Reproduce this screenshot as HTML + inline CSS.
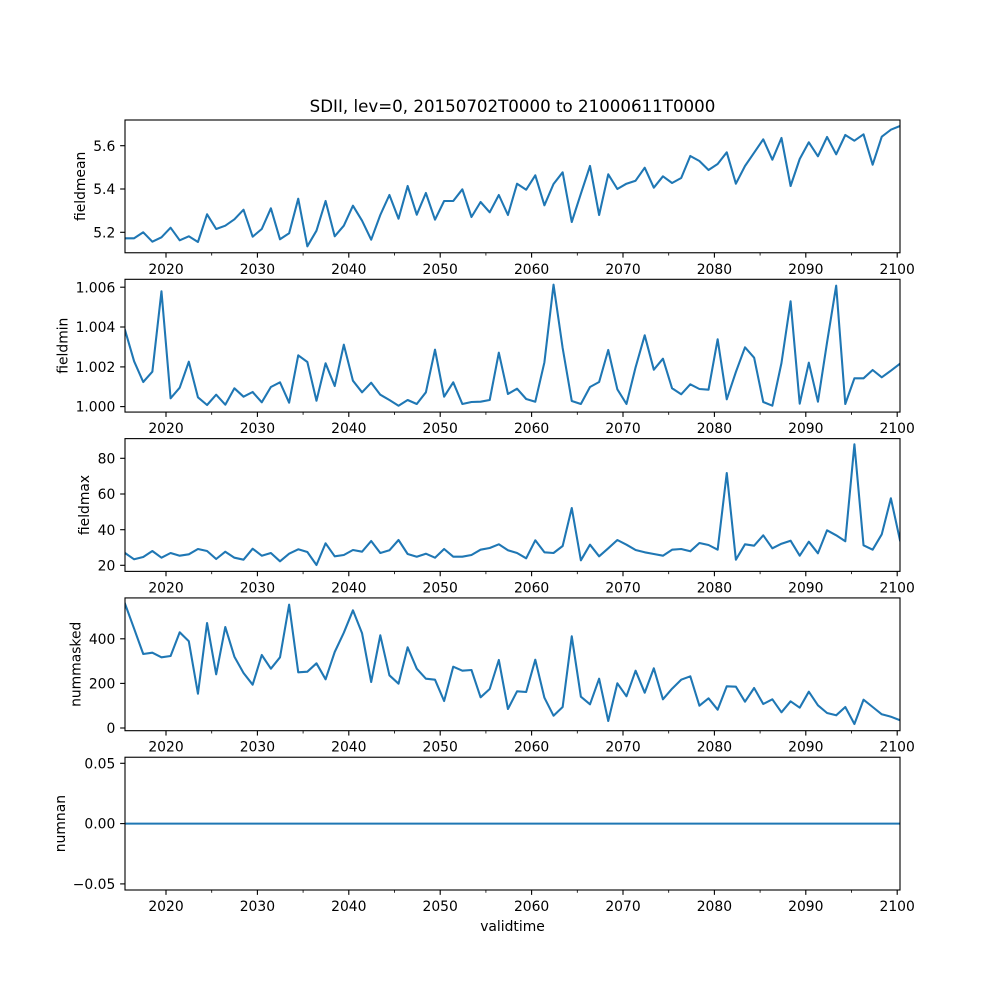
<!DOCTYPE html>
<html>
<head>
<meta charset="utf-8">
<style>
html,body{margin:0;padding:0;background:#fff;}
svg{display:block;}
text{font-family:"DejaVu Sans","Liberation Sans",sans-serif;fill:#000;}
.tl{font-size:13.89px;}
.yl{font-size:13.89px;text-anchor:end;}
.xl{font-size:13.89px;text-anchor:middle;}
.ln{fill:none;stroke:#1f77b4;stroke-width:2.08;stroke-linejoin:round;stroke-linecap:square;}
.sp{fill:none;stroke:#000;stroke-width:1.11;}
.tk{stroke:#000;stroke-width:1.11;}
.mt{stroke:#000;stroke-width:0.83;}
</style>
</head>
<body>
<svg width="1000" height="1000" viewBox="0 0 1000 1000" xmlns="http://www.w3.org/2000/svg">
<rect x="0" y="0" width="1000" height="1000" fill="#fff"/>
<defs>
<clipPath id="c1"><rect x="125" y="120" width="775" height="132.76"/></clipPath>
<clipPath id="c2"><rect x="125" y="279.31" width="775" height="132.76"/></clipPath>
<clipPath id="c3"><rect x="125" y="438.62" width="775" height="132.76"/></clipPath>
<clipPath id="c4"><rect x="125" y="597.93" width="775" height="132.76"/></clipPath>
<clipPath id="c5"><rect x="125" y="757.24" width="775" height="132.76"/></clipPath>
<g id="xt">
<line class="tk" x1="166.0" y1="0" x2="166.0" y2="4.86"/>
<line class="tk" x1="257.4" y1="0" x2="257.4" y2="4.86"/>
<line class="tk" x1="348.8" y1="0" x2="348.8" y2="4.86"/>
<line class="tk" x1="440.2" y1="0" x2="440.2" y2="4.86"/>
<line class="tk" x1="531.6" y1="0" x2="531.6" y2="4.86"/>
<line class="tk" x1="623.0" y1="0" x2="623.0" y2="4.86"/>
<line class="tk" x1="714.4" y1="0" x2="714.4" y2="4.86"/>
<line class="tk" x1="805.8" y1="0" x2="805.8" y2="4.86"/>
<line class="tk" x1="897.2" y1="0" x2="897.2" y2="4.86"/>
<line class="mt" x1="211.7" y1="0" x2="211.7" y2="2.78"/>
<line class="mt" x1="303.1" y1="0" x2="303.1" y2="2.78"/>
<line class="mt" x1="394.5" y1="0" x2="394.5" y2="2.78"/>
<line class="mt" x1="485.9" y1="0" x2="485.9" y2="2.78"/>
<line class="mt" x1="577.3" y1="0" x2="577.3" y2="2.78"/>
<line class="mt" x1="668.7" y1="0" x2="668.7" y2="2.78"/>
<line class="mt" x1="760.1" y1="0" x2="760.1" y2="2.78"/>
<line class="mt" x1="851.5" y1="0" x2="851.5" y2="2.78"/>
<text class="xl" x="166.0" y="21">2020</text>
<text class="xl" x="257.4" y="21">2030</text>
<text class="xl" x="348.8" y="21">2040</text>
<text class="xl" x="440.2" y="21">2050</text>
<text class="xl" x="531.6" y="21">2060</text>
<text class="xl" x="623.0" y="21">2070</text>
<text class="xl" x="714.4" y="21">2080</text>
<text class="xl" x="805.8" y="21">2090</text>
<text class="xl" x="897.2" y="21">2100</text>
</g>
</defs>

<!-- Title -->
<text x="512.5" y="111.8" style="font-size:16.67px;text-anchor:middle;">SDII, lev=0, 20150702T0000 to 21000611T0000</text>

<!-- Panel 1: fieldmean -->
<polyline class="ln" clip-path="url(#c1)" points="125.00,238.3 134.12,238.3 143.24,232.3 152.35,241.7 161.47,237.3 170.59,227.7 179.71,240.3 188.82,236.3 197.94,242 207.06,214.3 216.18,229 225.29,225.7 234.41,219.3 243.53,209.7 252.65,236.7 261.76,229 270.88,208.3 280.00,239.3 289.12,233.3 298.24,198.7 307.35,246.3 316.47,230.7 325.59,201 334.71,236.3 343.82,225.7 352.94,205.7 362.06,220.7 371.18,239.7 380.29,215 389.41,195 398.53,218.7 407.65,186 416.76,214.7 425.88,193 435.00,219.7 444.12,201 453.24,201 462.35,189.3 471.47,217 480.59,202 489.71,212.3 498.82,195 507.94,215 517.06,183.7 526.18,189.7 535.29,175.3 544.41,205.3 553.53,184 562.65,172.3 571.76,222 580.88,193.7 590.00,166 599.12,215 608.24,174.3 617.35,189 626.47,183.7 635.59,180.7 644.71,167.7 653.82,187.7 662.94,176.3 672.06,183 681.18,178 690.29,156 699.41,161 708.53,170 717.65,164 726.76,152.3 735.88,183.7 745.00,166 754.12,152.7 763.24,139.3 772.35,159.7 781.47,138 790.59,186 799.71,159 808.82,142.3 817.94,156.3 827.06,137 836.18,154.3 845.29,135 854.41,140.7 863.53,134.3 872.65,164.7 881.76,136.7 890.88,129.7 900.00,126"/>
<rect class="sp" x="125" y="120" width="775" height="132.76"/>
<line class="tk" x1="125" y1="232.3" x2="120.14" y2="232.3"/>
<line class="tk" x1="125" y1="189.0" x2="120.14" y2="189.0"/>
<line class="tk" x1="125" y1="145.7" x2="120.14" y2="145.7"/>
<text class="yl" x="115.3" y="237.35">5.2</text>
<text class="yl" x="115.3" y="194.05">5.4</text>
<text class="yl" x="115.3" y="150.75">5.6</text>
<text class="tl" transform="translate(85,186.4) rotate(-90)" text-anchor="middle">fieldmean</text>
<use href="#xt" transform="translate(0,252.76)"/>

<!-- Panel 2: fieldmin -->
<polyline class="ln" clip-path="url(#c2)" points="125.00,330 134.12,361.3 143.24,382 152.35,371.7 161.47,291.3 170.59,398.3 179.71,387.7 188.82,361.7 197.94,397.3 207.06,405 216.18,394.7 225.29,404.7 234.41,388.3 243.53,396.7 252.65,392 261.76,402.3 270.88,387 280.00,382.3 289.12,402.7 298.24,355.3 307.35,362 316.47,400.7 325.59,363.3 334.71,386 343.82,344.7 352.94,380.7 362.06,392.3 371.18,382.7 380.29,394.7 389.41,400 398.53,405.7 407.65,400 416.76,404 425.88,392.3 435.00,349.7 444.12,396.7 453.24,382.3 462.35,404 471.47,402 480.59,401.7 489.71,400 498.82,352.7 507.94,394 517.06,388.7 526.18,399 535.29,401.7 544.41,362.3 553.53,284.7 562.65,348 571.76,401 580.88,404 590.00,387 599.12,382 608.24,350 617.35,389.3 626.47,404 635.59,367.3 644.71,335.3 653.82,369.7 662.94,358.7 672.06,388.3 681.18,394.3 690.29,384.3 699.41,389 708.53,389.7 717.65,339.3 726.76,399.3 735.88,372 745.00,347.3 754.12,357.7 763.24,402 772.35,405.7 781.47,363 790.59,301.3 799.71,403.7 808.82,362.7 817.94,401.7 827.06,342.3 836.18,285.7 845.29,404 854.41,378.3 863.53,378.3 872.65,370 881.76,377.3 890.88,370.7 900.00,363.7"/>
<rect class="sp" x="125" y="279.31" width="775" height="132.76"/>
<line class="tk" x1="125" y1="406.6" x2="120.14" y2="406.6"/>
<line class="tk" x1="125" y1="366.9" x2="120.14" y2="366.9"/>
<line class="tk" x1="125" y1="327.0" x2="120.14" y2="327.0"/>
<line class="tk" x1="125" y1="287.2" x2="120.14" y2="287.2"/>
<text class="yl" x="115.3" y="411.65">1.000</text>
<text class="yl" x="115.3" y="371.95">1.002</text>
<text class="yl" x="115.3" y="332.05">1.004</text>
<text class="yl" x="115.3" y="292.25">1.006</text>
<text class="tl" transform="translate(67.3,345.7) rotate(-90)" text-anchor="middle">fieldmin</text>
<use href="#xt" transform="translate(0,412.07)"/>

<!-- Panel 3: fieldmax -->
<polyline class="ln" clip-path="url(#c3)" points="125.00,553 134.12,559.3 143.24,557 152.35,551 161.47,557.7 170.59,553 179.71,555.7 188.82,554.3 197.94,549 207.06,551 216.18,559 225.29,551.7 234.41,557.7 243.53,559.7 252.65,548.7 261.76,555.7 270.88,553 280.00,561.3 289.12,553.7 298.24,549.3 307.35,552 316.47,565 325.59,543.3 334.71,556.3 343.82,555 352.94,550 362.06,551.7 371.18,541 380.29,553 389.41,550.3 398.53,540 407.65,554 416.76,556.7 425.88,553.7 435.00,557.7 444.12,549 453.24,556.7 462.35,556.7 471.47,555 480.59,549.7 489.71,548 498.82,544.3 507.94,550.3 517.06,553 526.18,558.3 535.29,540.3 544.41,552.3 553.53,553 562.65,546 571.76,508 580.88,560.3 590.00,544.7 599.12,556.3 608.24,548.3 617.35,540 626.47,544.7 635.59,550 644.71,552.3 653.82,554 662.94,555.7 672.06,549.7 681.18,549 690.29,551.3 699.41,543 708.53,545 717.65,549.7 726.76,473 735.88,559.7 745.00,544.3 754.12,545.7 763.24,535.3 772.35,548.3 781.47,543.7 790.59,540.7 799.71,555.7 808.82,541.7 817.94,553.3 827.06,530.3 836.18,535.3 845.29,541.3 854.41,444.3 863.53,545.3 872.65,549.7 881.76,534.3 890.88,498.3 900.00,540.3"/>
<rect class="sp" x="125" y="438.62" width="775" height="132.76"/>
<line class="tk" x1="125" y1="565.3" x2="120.14" y2="565.3"/>
<line class="tk" x1="125" y1="529.7" x2="120.14" y2="529.7"/>
<line class="tk" x1="125" y1="494.0" x2="120.14" y2="494.0"/>
<line class="tk" x1="125" y1="458.3" x2="120.14" y2="458.3"/>
<text class="yl" x="115.3" y="570.35">20</text>
<text class="yl" x="115.3" y="534.75">40</text>
<text class="yl" x="115.3" y="499.05">60</text>
<text class="yl" x="115.3" y="463.35">80</text>
<text class="tl" transform="translate(89,505) rotate(-90)" text-anchor="middle">fieldmax</text>
<use href="#xt" transform="translate(0,571.38)"/>

<!-- Panel 4: nummasked -->
<polyline class="ln" clip-path="url(#c4)" points="125.00,603.7 134.12,628.7 143.24,654 152.35,652.7 161.47,657.3 170.59,656 179.71,632.3 188.82,641.3 197.94,693.7 207.06,623 216.18,674.3 225.29,627 234.41,656.7 243.53,673 252.65,684.7 261.76,655 270.88,668.7 280.00,657.3 289.12,604.7 298.24,672.3 307.35,671.7 316.47,663.3 325.59,679.3 334.71,652 343.82,632.7 352.94,610.3 362.06,633.3 371.18,682 380.29,635.3 389.41,675.3 398.53,683.7 407.65,647.3 416.76,668.7 425.88,678.7 435.00,679.7 444.12,701 453.24,666.7 462.35,670.7 471.47,670 480.59,697.3 489.71,689 498.82,660 507.94,709 517.06,691.3 526.18,692 535.29,659.7 544.41,697.7 553.53,715.7 562.65,707 571.76,636.3 580.88,696.7 590.00,704.3 599.12,678.7 608.24,721 617.35,683.3 626.47,696.3 635.59,670.7 644.71,692.7 653.82,668.3 662.94,699.3 672.06,688.7 681.18,679.7 690.29,676.3 699.41,705.7 708.53,698.3 717.65,709.7 726.76,686.3 735.88,686.7 745.00,701.7 754.12,688 763.24,704 772.35,699.3 781.47,712.3 790.59,701.3 799.71,707.7 808.82,691.7 817.94,705.3 827.06,713 836.18,715.3 845.29,707 854.41,724 863.53,699.7 872.65,707 881.76,714.3 890.88,716.7 900.00,720.3"/>
<rect class="sp" x="125" y="597.93" width="775" height="132.76"/>
<line class="tk" x1="125" y1="728.0" x2="120.14" y2="728.0"/>
<line class="tk" x1="125" y1="683.4" x2="120.14" y2="683.4"/>
<line class="tk" x1="125" y1="638.8" x2="120.14" y2="638.8"/>
<text class="yl" x="115.3" y="733.05">0</text>
<text class="yl" x="115.3" y="688.45">200</text>
<text class="yl" x="115.3" y="643.85">400</text>
<text class="tl" transform="translate(80.6,664.3) rotate(-90)" text-anchor="middle">nummasked</text>
<use href="#xt" transform="translate(0,730.69)"/>

<!-- Panel 5: numnan -->
<line clip-path="url(#c5)" x1="125" y1="823.62" x2="900" y2="823.62" stroke="#1f77b4" stroke-width="2.08"/>
<rect class="sp" x="125" y="757.24" width="775" height="132.76"/>
<line class="tk" x1="125" y1="763.3" x2="120.14" y2="763.3"/>
<line class="tk" x1="125" y1="823.6" x2="120.14" y2="823.6"/>
<line class="tk" x1="125" y1="883.9" x2="120.14" y2="883.9"/>
<text class="yl" x="115.3" y="768.35">0.05</text>
<text class="yl" x="115.3" y="828.65">0.00</text>
<text class="yl" x="115.3" y="888.95">−0.05</text>
<text class="tl" transform="translate(65,823.6) rotate(-90)" text-anchor="middle">numnan</text>
<use href="#xt" transform="translate(0,890)"/>

<!-- x label -->
<text class="tl" x="512.5" y="931" text-anchor="middle">validtime</text>
</svg>
</body>
</html>
